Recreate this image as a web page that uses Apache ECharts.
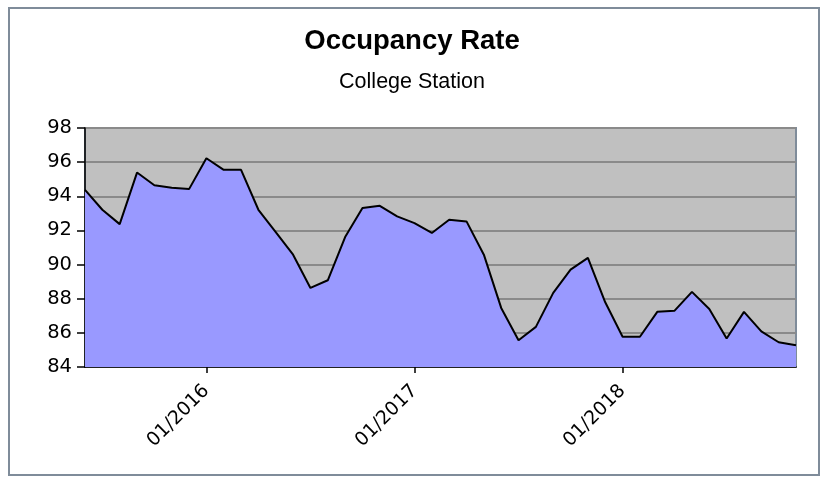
<!DOCTYPE html>
<html><head><meta charset="utf-8">
<script src="https://cdn.jsdelivr.net/npm/echarts@6/dist/echarts.min.js"></script>
<style>html,body{margin:0;padding:0;background:#fff}#c{width:824px;height:477px}</style>
</head><body><div id="c"></div>
<script>
var months = ["06/2015","07/2015","08/2015","09/2015","10/2015","11/2015","12/2015",
"01/2016","02/2016","03/2016","04/2016","05/2016","06/2016","07/2016","08/2016","09/2016","10/2016","11/2016","12/2016",
"01/2017","02/2017","03/2017","04/2017","05/2017","06/2017","07/2017","08/2017","09/2017","10/2017","11/2017","12/2017",
"01/2018","02/2018","03/2018","04/2018","05/2018","06/2018","07/2018","08/2018","09/2018","10/2018","11/2018"];
var occupancy = [94.38,93.21,92.37,95.39,94.65,94.5,94.42,
96.23,95.55,95.55,93.21,91.9,90.58,88.63,89.08,91.61,93.31,93.44,92.82,
92.43,91.85,92.63,92.53,90.58,87.46,85.57,86.35,88.34,89.70,90.39,87.79,
85.77,85.77,87.23,87.30,88.40,87.40,85.67,87.23,86.09,85.45,85.27];
var yTicks = {min: 84, max: 98, step: 2};

var chart = echarts.init(document.getElementById('c'));
var isJan = function (i, v) { return String(v).indexOf('01/') === 0; };
chart.setOption({
  animation: false,
  title: {
    text: 'Occupancy Rate', subtext: 'College Station', left: 'center', top: 22, itemGap: 16,
    textStyle: {fontFamily: 'Liberation Sans', fontWeight: 'bold', fontSize: 27.5, color: '#000'},
    subtextStyle: {fontFamily: 'Liberation Sans', fontSize: 21.5, color: '#000'}
  },
  graphic: [{type: 'rect', shape: {x: 9, y: 8, width: 810, height: 467}, style: {fill: 'none', stroke: '#7f8c9a', lineWidth: 2}, z: 100}],
  grid: {left: 85, right: 28, top: 128, bottom: 110, show: true, backgroundColor: '#c0c0c0', borderColor: '#7f8c9a', borderWidth: 2},
  xAxis: {
    type: 'category', data: months, boundaryGap: false,
    axisLine: {lineStyle: {color: '#000', width: 1.5}},
    axisTick: {interval: isJan, length: 6, lineStyle: {color: '#000', width: 1.5}},
    axisLabel: {interval: isJan, rotate: 45, fontFamily: 'DejaVu Sans', fontSize: 19, color: '#000', margin: 21}
  },
  yAxis: {
    type: 'value', min: yTicks.min, max: yTicks.max, interval: yTicks.step,
    axisLine: {show: true, lineStyle: {color: '#000', width: 1.5}},
    axisTick: {show: true, length: 8, lineStyle: {color: '#000', width: 1.5}},
    axisLabel: {fontFamily: 'DejaVu Sans', fontSize: 19.5, color: '#000', margin: 13},
    splitLine: {lineStyle: {color: '#8a8a8a', width: 2}}
  },
  series: [{
    type: 'line', data: occupancy, symbol: 'none',
    lineStyle: {color: '#000', width: 2},
    areaStyle: {color: '#9999ff', opacity: 1, origin: 'start'}
  }]
});
</script></body></html>
